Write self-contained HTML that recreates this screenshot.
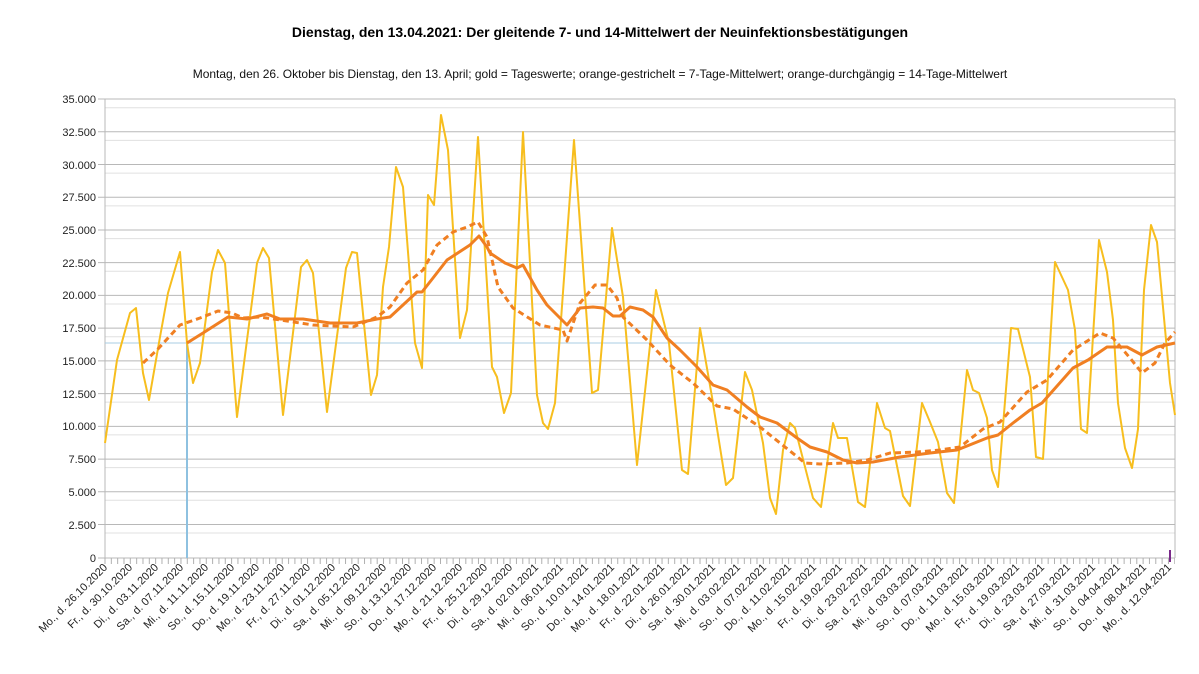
<!DOCTYPE html>
<html><head><meta charset="utf-8"><style>
body{margin:0;background:#fff}
svg{display:block;font-family:"Liberation Sans",sans-serif}
</style></head><body>
<svg width="1199" height="674" viewBox="0 0 1199 674">
<text x="600" y="37" text-anchor="middle" font-size="14" font-weight="bold" fill="#000">Dienstag, den 13.04.2021: Der gleitende 7- und 14-Mittelwert der Neuinfektionsbestätigungen</text>
<text x="600" y="78" text-anchor="middle" font-size="12" fill="#111">Montag, den 26. Oktober bis Dienstag, den 13. April; gold = Tageswerte; orange-gestrichelt = 7-Tage-Mittelwert; orange-durchgängig = 14-Tage-Mittelwert</text>
<g stroke="#e0e0e0" stroke-width="1">
<line x1="105" x2="1175" y1="107.7" y2="107.7"/><line x1="105" x2="1175" y1="140.4" y2="140.4"/><line x1="105" x2="1175" y1="173.1" y2="173.1"/><line x1="105" x2="1175" y1="205.9" y2="205.9"/><line x1="105" x2="1175" y1="238.6" y2="238.6"/><line x1="105" x2="1175" y1="271.3" y2="271.3"/><line x1="105" x2="1175" y1="304" y2="304"/><line x1="105" x2="1175" y1="336.7" y2="336.7"/><line x1="105" x2="1175" y1="369.4" y2="369.4"/><line x1="105" x2="1175" y1="402.1" y2="402.1"/><line x1="105" x2="1175" y1="434.9" y2="434.9"/><line x1="105" x2="1175" y1="467.6" y2="467.6"/><line x1="105" x2="1175" y1="500.3" y2="500.3"/><line x1="105" x2="1175" y1="533" y2="533"/>
</g>
<g stroke="#b8b8b8" stroke-width="1">
<line x1="98" x2="1175" y1="99" y2="99"/><line x1="98" x2="1175" y1="131.8" y2="131.8"/><line x1="98" x2="1175" y1="164.5" y2="164.5"/><line x1="98" x2="1175" y1="197.3" y2="197.3"/><line x1="98" x2="1175" y1="230" y2="230"/><line x1="98" x2="1175" y1="262.6" y2="262.6"/><line x1="98" x2="1175" y1="295.4" y2="295.4"/><line x1="98" x2="1175" y1="328.1" y2="328.1"/><line x1="98" x2="1175" y1="360.9" y2="360.9"/><line x1="98" x2="1175" y1="393.6" y2="393.6"/><line x1="98" x2="1175" y1="426.4" y2="426.4"/><line x1="98" x2="1175" y1="459.1" y2="459.1"/><line x1="98" x2="1175" y1="491.7" y2="491.7"/><line x1="98" x2="1175" y1="524.5" y2="524.5"/><line x1="98" x2="1175" y1="558" y2="558"/>
<line x1="105" x2="105" y1="99" y2="562"/><line x1="1175" x2="1175" y1="99" y2="558"/>
</g>
<line x1="104.5" x2="1175" y1="561" y2="561" stroke="#b0b0b0" stroke-width="6" stroke-dasharray="1,5.33"/>
<line x1="105" x2="1175" y1="343" y2="343" stroke="#a9cde3" stroke-width="1"/>
<line x1="187" x2="187" y1="343" y2="558" stroke="#8ec1e0" stroke-width="2"/>
<line x1="1170" x2="1170" y1="550" y2="562" stroke="#7a2a8a" stroke-width="2"/>
<g font-size="11" fill="#222" text-anchor="end">
<text x="96" y="103">35.000</text><text x="96" y="136">32.500</text><text x="96" y="169">30.000</text><text x="96" y="201">27.500</text><text x="96" y="234">25.000</text><text x="96" y="267">22.500</text><text x="96" y="299">20.000</text><text x="96" y="332">17.500</text><text x="96" y="365">15.000</text><text x="96" y="398">12.500</text><text x="96" y="430">10.000</text><text x="96" y="463">7.500</text><text x="96" y="496">5.000</text><text x="96" y="529">2.500</text><text x="96" y="562">0</text>
</g>
<polyline fill="none" stroke="#f7be1e" stroke-width="2" stroke-linejoin="round" points="105,443 117,360 130,313 136,308 143,373 149,400 160,337 168,293 180,252 187,343 193,383 200,363 212,272 218,250 225,263 237,417 257,263 263,248 269,258 283,415 301,267 307,260 313,273 327,412 346,268 352,252 357,253 371,395 377,375 383,287 389,247 396,167 403,187 415,343 422,368 428,195 434,205 441,115 448,150 460,338 467,310 478,137 492,367 497,377 504,413 511,393 523,132 537,395 543,423 548,429 555,403 574,140 592,393 598,390 612,228 623,297 637,465 656,290 669,343 682,470 688,474 700,328 712,397 726,485 733,478 745,372 752,390 763,443 770,498 776,514 783,450 790,423 795,428 813,498 821,507 833,423 838,438 847,438 858,502 865,507 877,403 885,428 890,431 903,496 910,506 922,403 930,422 938,442 947,493 954,503 967,370 973,390 979,393 987,418 992,470 998,487 1011,328 1018,329 1030,377 1036,457 1043,459 1055,262 1068,290 1075,330 1081,429 1087,433 1099,240 1107,272 1113,320 1118,403 1125,448 1132,468 1138,429 1144,290 1151,225 1157,242 1170,383 1175,415"/>
<polyline fill="none" stroke="#f07f22" stroke-width="3" stroke-dasharray="6,4" stroke-linejoin="round" points="143,363 157,350 180,325 200,318 218,311 232,313 243,318 260,317 287,321 313,325 353,327 377,317 390,307 407,283 423,270 437,245 453,232 467,227 478,222 487,237 498,287 513,308 540,325 563,330 567,341 580,303 595,285 607,285 617,298 623,317 647,340 670,365 693,383 717,406 733,409 760,427 780,443 805,463 820,464 847,463 867,460 890,453 917,452 940,450 960,447 983,429 1000,422 1027,392 1047,380 1073,350 1100,333 1113,338 1130,358 1142,373 1155,363 1165,343 1175,332"/>
<polyline fill="none" stroke="#f07f22" stroke-width="3" stroke-linejoin="round" points="187,343 203,333 228,317 247,319 267,314 280,319 303,319 330,323 357,323 377,319 390,317 417,292 422,292 433,278 447,260 470,245 479,236 487,247 490,253 505,263 517,268 523,265 537,290 547,305 567,325 580,308 593,307 603,308 613,316 620,316 630,307 643,310 653,317 667,338 680,350 697,367 713,385 727,390 747,407 760,417 777,423 797,438 810,447 827,452 843,460 857,463 873,462 900,457 930,453 957,450 987,438 998,435 1013,423 1030,410 1042,403 1073,368 1088,360 1107,347 1127,347 1142,355 1157,347 1175,343"/>
<g font-size="11" fill="#222" text-anchor="end">
<text transform="translate(108,568) rotate(-45)">Mo., d. 26.10.2020</text>
<text transform="translate(133,568) rotate(-45)">Fr., d. 30.10.2020</text>
<text transform="translate(159,568) rotate(-45)">Di., d. 03.11.2020</text>
<text transform="translate(184,568) rotate(-45)">Sa., d. 07.11.2020</text>
<text transform="translate(209,568) rotate(-45)">Mi., d. 11.11.2020</text>
<text transform="translate(235,568) rotate(-45)">So., d. 15.11.2020</text>
<text transform="translate(260,568) rotate(-45)">Do., d. 19.11.2020</text>
<text transform="translate(285,568) rotate(-45)">Mo., d. 23.11.2020</text>
<text transform="translate(311,568) rotate(-45)">Fr., d. 27.11.2020</text>
<text transform="translate(336,568) rotate(-45)">Di., d. 01.12.2020</text>
<text transform="translate(361,568) rotate(-45)">Sa., d. 05.12.2020</text>
<text transform="translate(387,568) rotate(-45)">Mi., d. 09.12.2020</text>
<text transform="translate(412,568) rotate(-45)">So., d. 13.12.2020</text>
<text transform="translate(437,568) rotate(-45)">Do., d. 17.12.2020</text>
<text transform="translate(463,568) rotate(-45)">Mo., d. 21.12.2020</text>
<text transform="translate(488,568) rotate(-45)">Fr., d. 25.12.2020</text>
<text transform="translate(513,568) rotate(-45)">Di., d. 29.12.2020</text>
<text transform="translate(539,568) rotate(-45)">Sa., d. 02.01.2021</text>
<text transform="translate(564,568) rotate(-45)">Mi., d. 06.01.2021</text>
<text transform="translate(589,568) rotate(-45)">So., d. 10.01.2021</text>
<text transform="translate(615,568) rotate(-45)">Do., d. 14.01.2021</text>
<text transform="translate(640,568) rotate(-45)">Mo., d. 18.01.2021</text>
<text transform="translate(665,568) rotate(-45)">Fr., d. 22.01.2021</text>
<text transform="translate(691,568) rotate(-45)">Di., d. 26.01.2021</text>
<text transform="translate(716,568) rotate(-45)">Sa., d. 30.01.2021</text>
<text transform="translate(741,568) rotate(-45)">Mi., d. 03.02.2021</text>
<text transform="translate(767,568) rotate(-45)">So., d. 07.02.2021</text>
<text transform="translate(792,568) rotate(-45)">Do., d. 11.02.2021</text>
<text transform="translate(817,568) rotate(-45)">Mo., d. 15.02.2021</text>
<text transform="translate(843,568) rotate(-45)">Fr., d. 19.02.2021</text>
<text transform="translate(868,568) rotate(-45)">Di., d. 23.02.2021</text>
<text transform="translate(893,568) rotate(-45)">Sa., d. 27.02.2021</text>
<text transform="translate(919,568) rotate(-45)">Mi., d. 03.03.2021</text>
<text transform="translate(944,568) rotate(-45)">So., d. 07.03.2021</text>
<text transform="translate(969,568) rotate(-45)">Do., d. 11.03.2021</text>
<text transform="translate(995,568) rotate(-45)">Mo., d. 15.03.2021</text>
<text transform="translate(1020,568) rotate(-45)">Fr., d. 19.03.2021</text>
<text transform="translate(1045,568) rotate(-45)">Di., d. 23.03.2021</text>
<text transform="translate(1071,568) rotate(-45)">Sa., d. 27.03.2021</text>
<text transform="translate(1096,568) rotate(-45)">Mi., d. 31.03.2021</text>
<text transform="translate(1121,568) rotate(-45)">So., d. 04.04.2021</text>
<text transform="translate(1147,568) rotate(-45)">Do., d. 08.04.2021</text>
<text transform="translate(1172,568) rotate(-45)">Mo., d. 12.04.2021</text>
</g>
</svg>
</body></html>
